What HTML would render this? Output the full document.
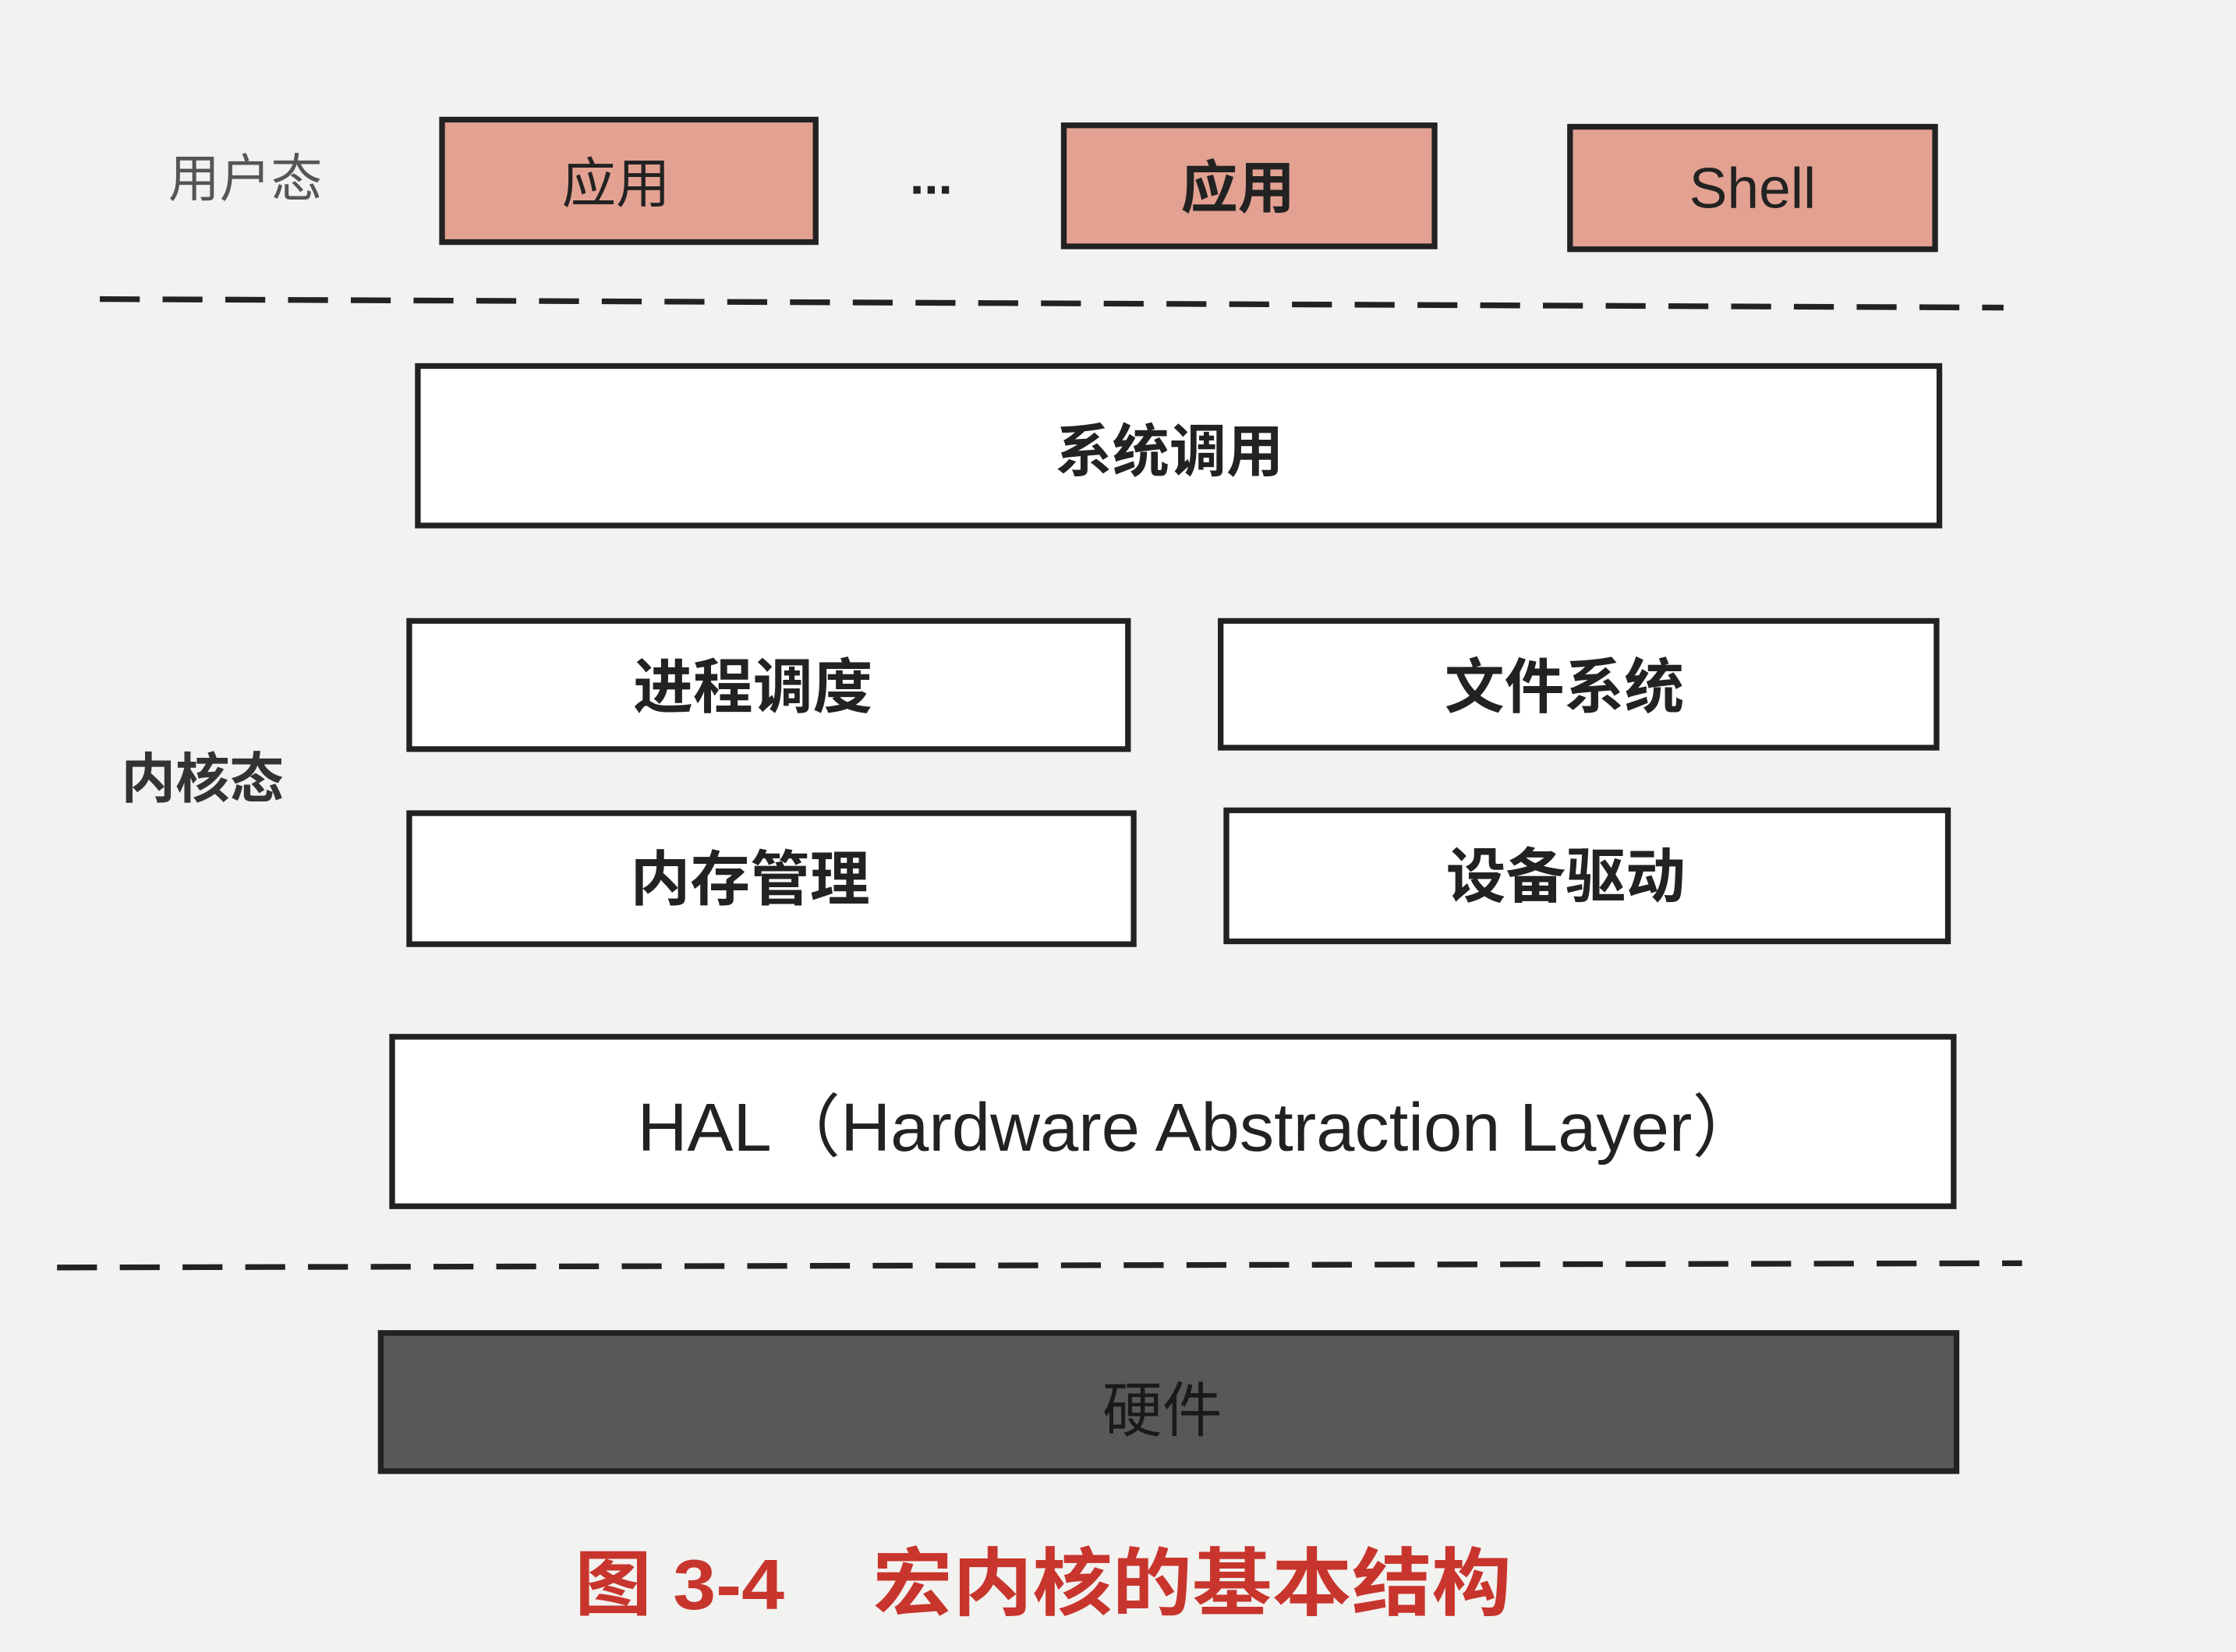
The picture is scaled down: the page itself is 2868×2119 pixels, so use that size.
<!DOCTYPE html>
<html><head><meta charset="utf-8"><style>
html,body{margin:0;padding:0;background:#f2f2f0;}
svg{display:block}
text{font-family:"Liberation Sans","Noto Sans CJK SC",sans-serif;}
</style></head><body>
<svg width="2868" height="2119" viewBox="0 0 1568 1160" preserveAspectRatio="none" xmlns="http://www.w3.org/2000/svg">
<rect x="0" y="0" width="1568" height="1160" fill="#f2f2f0"/>
<g stroke="#222" stroke-width="4">
<rect x="310" y="84" width="262" height="86" fill="#e3a191"/>
<rect x="746" y="88" width="260" height="85" fill="#e3a191"/>
<rect x="1101" y="89" width="256" height="86" fill="#e3a191"/>
<rect x="293" y="257" width="1067" height="112" fill="#fff"/>
<rect x="287" y="436" width="504" height="90" fill="#fff"/>
<rect x="856" y="436" width="502" height="89" fill="#fff"/>
<rect x="287" y="571" width="508" height="92" fill="#fff"/>
<rect x="860" y="569" width="506" height="92" fill="#fff"/>
<rect x="275" y="728" width="1095" height="119" fill="#fff"/>
<rect x="267" y="936" width="1105" height="97" fill="#58585a"/>
</g>
<g stroke="#222" stroke-width="4" stroke-dasharray="28,16">
<line x1="70" y1="210" x2="1405" y2="216"/>
<line x1="40" y1="890" x2="1418" y2="887"/>
</g>
<g fill="#222" text-anchor="middle" font-weight="bold">
<text x="172" y="138" font-size="36" fill="#555" font-weight="normal">用户态</text>
<text x="142" y="560" font-size="38" fill="#333">内核态</text>
<text x="432" y="142" font-size="38" font-weight="normal">应用</text>
<text x="653" y="136" font-size="36">...</text>
<text x="868" y="146" font-size="40">应用</text>
<text x="1229" y="146" font-size="40" font-weight="normal">Shell</text>
<text x="820" y="331" font-size="40">系统调用</text>
<text x="528" y="497" font-size="42">进程调度</text>
<text x="1097" y="497" font-size="42">文件系统</text>
<text x="526" y="632" font-size="42">内存管理</text>
<text x="1098" y="630" font-size="42">设备驱动</text>
<text x="841" y="808" font-size="48" font-weight="normal" textLength="788" lengthAdjust="spacingAndGlyphs">HAL（Hardware Abstraction Layer）</text>
<text x="815" y="1005" font-size="42" fill="#1a1a1a" font-weight="normal">硬件</text>
</g>
<text x="403" y="1130" font-size="50" font-weight="bold" fill="#c8352d" textLength="147" lengthAdjust="spacingAndGlyphs">图 3-4</text>
<text x="612" y="1130" font-size="52" font-weight="bold" fill="#c8352d" textLength="448" lengthAdjust="spacingAndGlyphs">宏内核的基本结构</text>
</svg>
</body></html>
